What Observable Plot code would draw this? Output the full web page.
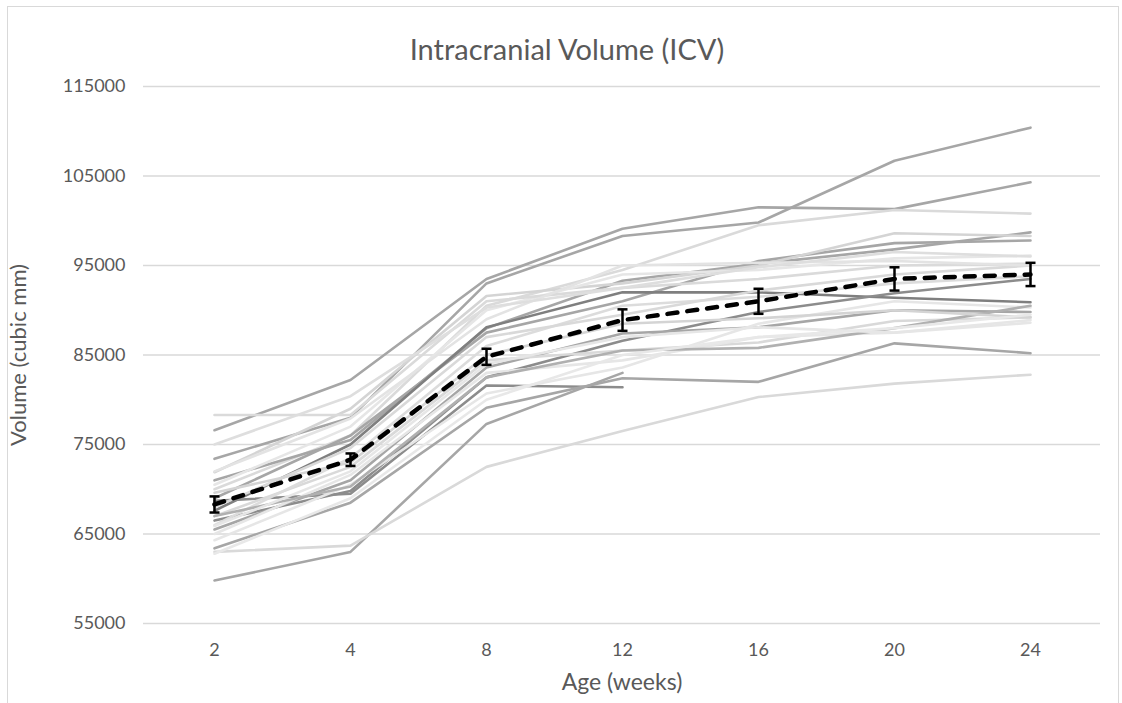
<!DOCTYPE html>
<html>
<head>
<meta charset="utf-8">
<script src="https://cdn.jsdelivr.net/npm/d3@7"></script>
<script src="https://cdn.jsdelivr.net/npm/@observablehq/plot@0.6"></script>
<style>
  html, body { margin: 0; padding: 0; background: #fff; }
  #wrap { position: relative; width: 1122px; height: 703px; overflow: hidden; font-family: Lato, "Open Sans", sans-serif; }
  #frame { position: absolute; left: 7px; top: 6px; width: 1112px; height: 720px; border: 1px solid #d9d9d9; box-sizing: border-box; }
  #title { position: absolute; left: 0; top: 32px; width: 1134px; text-align: center; font-size: 29px; color: #595959; line-height: 34px; }
  #chart { position: absolute; left: 0; top: 70px; }
</style>
</head>
<body>
<div id="wrap">
  <div id="frame"></div>
  <div id="title">Intracranial Volume (ICV)</div>
  <div id="chart"></div>
</div>
<script>
// ---- data ----
const weeks = ["2", "4", "8", "12", "16", "20", "24"];
const yTicks = [55000, 65000, 75000, 85000, 95000, 105000, 115000];

const meanICV = [68300, 73300, 84800, 88900, 91000, 93500, 94000];
const errICV  = [900, 700, 900, 1200, 1400, 1300, 1300];

const s01 = [76600, 82200, 93500, 99100, 101500, 101300, 104300];
const s02 = [73400, 78000, 93000, 98300, 99800, 106700, 110400];
const s03 = [70000, 76000, 90500, 94500, 99500, 101200, 100800];
const s04 = [71000, 75500, 88000, 93300, 95200, 96800, 98700];
const s05 = [69000, 76000, 87500, 91000, 95500, 97500, 97800];
const s06 = [71900, 79000, 91600, 93000, 95000, 98600, 98300];
const s07 = [70500, 77000, 90000, 94000, 94500, 95800, 96100];
const s08 = [78300, 78300, 91000, 92500, 93500, 95000, 95200];
const s09 = [67600, 75000, 88100, 92000, 92000, 91400, 90900];
const s10 = [66500, 69800, 82500, 86600, 89800, 91900, 93500];
const s11 = [68700, 69500, 81600, 81400, null, null, null];
const s12 = [59800, 63000, 77300, 83000, null, null, null];
const s13 = [63400, 68500, 79100, 82400, 82000, 86300, 85200];
const s14 = [63000, 63700, 72500, 76500, 80300, 81800, 82800];
const s15 = [65500, 71000, 83600, 87400, 88100, 90000, 89800];
const s16 = [67000, 72500, 84400, 85500, 86400, 88800, 89200];
const s17 = [65000, 71600, 83000, 84400, 87000, 87500, 88600];
const s18 = [66000, 73500, 86000, 90500, 91500, 93000, 93800];
const s19 = [64300, 70500, 80700, 83600, 88500, 91000, 90300];
const s20 = [68000, 74600, 87000, 89500, 92200, 94000, 95000];
const s21 = [72000, 77900, 89000, 95000, 95300, 95500, 95000];
const s22 = [67000, 70300, 82500, 85500, 85800, 88000, 90500];
const s23 = [69600, 73000, 85000, 88500, 89100, 90000, 89200];
const s24 = [65900, 72000, 84000, 87000, 88100, 87500, 88900];
const s25 = [75000, 80400, 90300, 92500, 94800, 96500, 96000];
const s26 = [62800, 69000, 80000, 85000, 87000, 88000, 89500];

const subjects = [s01, s02, s03, s04, s05, s06, s07, s08, s09, s10, s11, s12, s13,
                  s14, s15, s16, s17, s18, s19, s20, s21, s22, s23, s24, s25, s26];
// grey tone for each subject line (style, kept apart from the values)
const subjectShade = ["#a6a6a6", "#a6a6a6", "#dadada", "#a6a6a6", "#a6a6a6", "#d4d4d4",
  "#e6e6e6", "#dadada", "#7f7f7f", "#8c8c8c", "#8c8c8c", "#a6a6a6", "#a6a6a6",
  "#d9d9d9", "#a6a6a6", "#d9d9d9", "#e6e6e6", "#dcdcdc", "#e6e6e6", "#d9d9d9",
  "#e3e3e3", "#b0b0b0", "#d4d4d4", "#e6e6e6", "#dedede", "#e8e8e8"];

// ---- tables built from the arrays ----
const lineRows = [];
subjects.forEach((vals, i) => {
  vals.forEach((v, j) => {
    if (v != null) lineRows.push({subject: i, week: weeks[j], value: v, shade: subjectShade[i]});
  });
});
const meanRows = weeks.map((w, j) => ({week: w, mean: meanICV[j], lo: meanICV[j] - errICV[j], hi: meanICV[j] + errICV[j]}));

// horizontal cap symbol for the error bars
const capSymbol = {draw(context) { context.moveTo(-5, 0); context.lineTo(5, 0); }};

const plot = Plot.plot({
  width: 1122,
  height: 633,
  marginTop: 16,
  marginBottom: 80,
  marginLeft: 143,
  marginRight: 22,
  style: {fontFamily: "Lato, 'Open Sans', sans-serif", fontSize: "18px", color: "#595959", background: "transparent"},
  x: {type: "point", domain: weeks, padding: 0.5, label: null},
  y: {domain: [55000, 115000], label: null},
  color: {type: "identity"},
  marks: [
    Plot.ruleY(yTicks, {stroke: "#d9d9d9", strokeWidth: 1.5}),
    Plot.axisY({ticks: yTicks, tickSize: 0, tickPadding: 18, tickFormat: d => String(d), label: null}),
    Plot.axisX({tickSize: 0, tickPadding: 20, label: null}),
    Plot.line(lineRows, {x: "week", y: "value", z: "subject", stroke: "shade", strokeWidth: 2.6, curve: "linear"}),
    Plot.line(meanRows, {x: "week", y: "mean", stroke: "#000", strokeWidth: 4.5, strokeDasharray: "10,10", strokeLinecap: "round"}),
    Plot.ruleX(meanRows, {x: "week", y1: "lo", y2: "hi", stroke: "#000", strokeWidth: 2.5}),
    Plot.dot(meanRows, {x: "week", y: "lo", symbol: capSymbol, stroke: "#000", fill: "none", strokeWidth: 2.5}),
    Plot.dot(meanRows, {x: "week", y: "hi", symbol: capSymbol, stroke: "#000", fill: "none", strokeWidth: 2.5}),
    Plot.text(["Age (weeks)"], {frameAnchor: "bottom", dy: 66, text: d => d, fontSize: 23, fill: "#595959"}),
    Plot.text(["Volume (cubic mm)"], {frameAnchor: "left", textAnchor: "middle", dx: -125, rotate: -90, text: d => d, fontSize: 22, fill: "#595959"})
  ]
});
document.getElementById("chart").appendChild(plot);
</script>
</body>
</html>
